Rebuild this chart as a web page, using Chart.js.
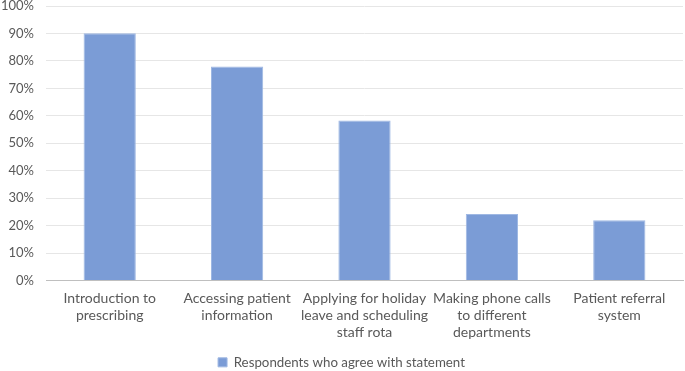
<!DOCTYPE html>
<html>
<head>
<meta charset="utf-8">
<script src="https://cdn.jsdelivr.net/npm/chart.js@4/dist/chart.umd.min.js"></script>
<style>
  html, body { margin: 0; padding: 0; background: #fff; }
  #wrap { width: 685px; height: 371px; }
</style>
</head>
<body>
<div id="wrap"><canvas id="chart"></canvas></div>
<script>
const categories = [
    ['Introduction to', 'prescribing'],
    ['Accessing patient', 'information'],
    ['Applying for holiday', 'leave and scheduling', 'staff rota'],
    ['Making phone calls', 'to different', 'departments'],
    ['Patient referral', 'system']
];
const agreeValues = [90.1, 78.0, 58.3, 24.2, 21.9]; // percent
const seriesName = 'Respondents who agree with statement';

const FONT = 'Lato, "Open Sans", sans-serif';

new Chart(document.getElementById('chart'), {
    type: 'bar',
    data: {
        labels: categories,
        datasets: [{
            label: seriesName,
            data: agreeValues,
            backgroundColor: '#7b9cd6',
            borderColor: '#9fb8e3',
            borderWidth: 1,
            barPercentage: 0.41,
            categoryPercentage: 1
        }]
    },
    options: {
        responsive: true,
        maintainAspectRatio: false,
        animation: false,
        layout: { padding: { top: 0, right: 2, left: 0, bottom: -8 } },
        plugins: {
            legend: {
                position: 'bottom',
                labels: {
                    boxWidth: 9, boxHeight: 9,
                    color: '#595959',
                    font: { family: FONT, size: 13.3 },
                    padding: 0
                }
            },
            tooltip: { enabled: false }
        },
        scales: {
            x: {
                afterFit: s => { s.height += 6; },
                grid: { display: false, drawTicks: false },
                border: { color: '#bfbfbf', width: 1 },
                ticks: {
                    color: '#595959',
                    font: { family: FONT, size: 14, lineHeight: 1.22 },
                    maxRotation: 0, autoSkip: false,
                    padding: 9
                }
            },
            y: {
                min: 0, max: 100,
                // keep the axis narrow and the plot close to the top edge
                afterFit: s => { s.width = 46; s.paddingTop = 6; },
                grid: { color: '#e6e6e6', drawTicks: false },
                border: { display: false },
                ticks: {
                    stepSize: 10,
                    color: '#595959',
                    font: { family: FONT, size: 13 },
                    padding: 12,
                    callback: v => v + '%'
                }
            }
        }
    }
});
</script>
</body>
</html>
